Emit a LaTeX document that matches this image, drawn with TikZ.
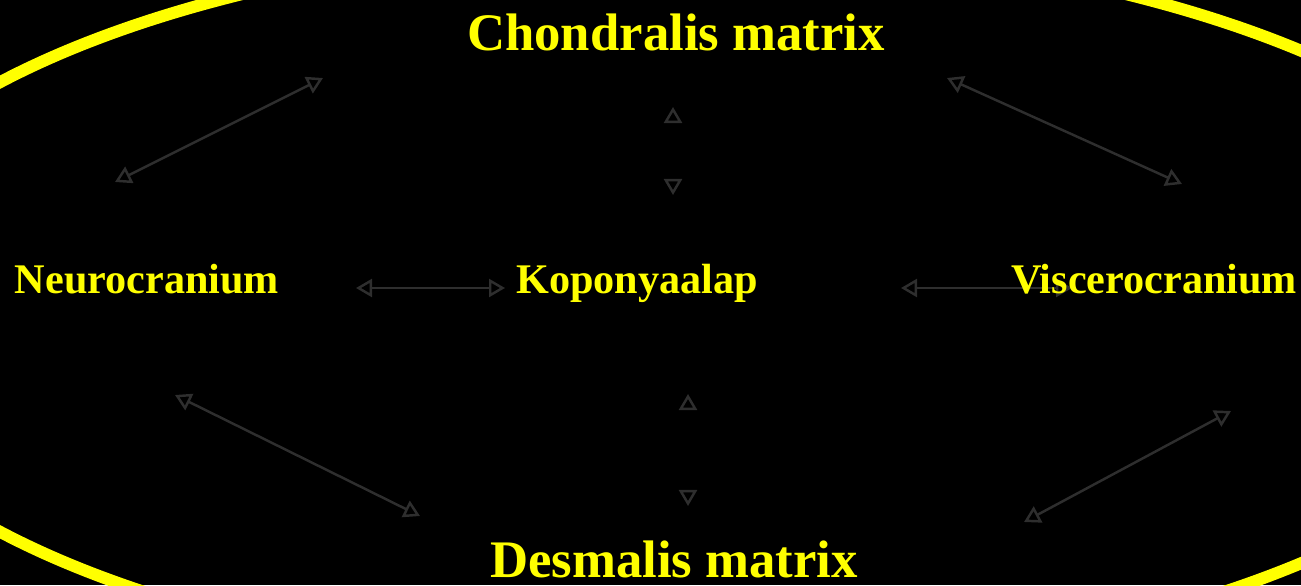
\documentclass[tikz,border=0pt]{standalone}
\usepackage{fontspec}
\setmainfont{Liberation Serif}
\usetikzlibrary{arrows.meta}
\definecolor{labelyellow}{RGB}{255,255,0}
\definecolor{arrowgray}{RGB}{46,46,46}
\tikzset{
  label text/.style={text=labelyellow, inner sep=0pt, anchor=base},
  big label/.style={label text, font=\fontsize{15}{18}\selectfont\bfseries},
  small label/.style={label text, font=\fontsize{12}{14}\selectfont\bfseries},
  link/.style={draw=arrowgray, line width=0.7pt, >={Triangle[open,length=1.6mm,width=1.8mm]}, <->},
  tips only/.style={link, draw=black, >={Triangle[open,length=1.6mm,width=1.8mm,color=arrowgray]}}
}

\begin{document}
\begin{tikzpicture}[x=0.01cm, y=-0.01cm]
			%%%%% START %%%%%
			
			\useasboundingbox (0,0) rectangle (1301,585);
			\clip (0,0) rectangle (1301,585);
			\fill[black] (0,0) rectangle (1301,585);
			
			\draw[labelyellow, line width=3.4pt] (684,307) ellipse [x radius=871, y radius=363];
			
			% arrow ends
			\coordinate (tl lo) at (115,182);
			\coordinate (tl hi) at (323,78);
			\coordinate (tr hi) at (947,78);
			\coordinate (tr lo) at (1182,184);
			\coordinate (bl hi) at (175,395);
			\coordinate (bl lo) at (420,516);
			\coordinate (br lo) at (1024,522);
			\coordinate (br hi) at (1231,411);
			\coordinate (ml a) at (356,288);
			\coordinate (ml b) at (505,288);
			\coordinate (mr a) at (901,288);
			\coordinate (mr b) at (1072,288);
			\coordinate (up a) at (673,107);
			\coordinate (up b) at (673,195);
			\coordinate (dn a) at (688,394);
			\coordinate (dn b) at (688,506);
			
			\draw[link] (tl lo) -- (tl hi);
			\draw[link] (tr hi) -- (tr lo);
			\draw[link] (bl hi) -- (bl lo);
			\draw[link] (br lo) -- (br hi);
			\draw[link] (ml a) -- (ml b);
			\draw[link] (mr a) -- (mr b);
			\draw[tips only] (up a) -- (up b);
			\draw[tips only] (dn a) -- (dn b);
			
			% labels
			\node[big label] (chondral) at (676,51) {Chondralis matrix};
			\node[big label] (desmal) at (674,577) {Desmalis matrix};
			\node[small label] (neuro) at (147,293) {Neurocranium};
			\node[small label] (skull) at (637,293) {Koponyaalap};
			\node[small label] (viscero) at (1154,293) {Viscerocranium};
			
			%%%%% END %%%%%
\end{tikzpicture}
\end{document}
